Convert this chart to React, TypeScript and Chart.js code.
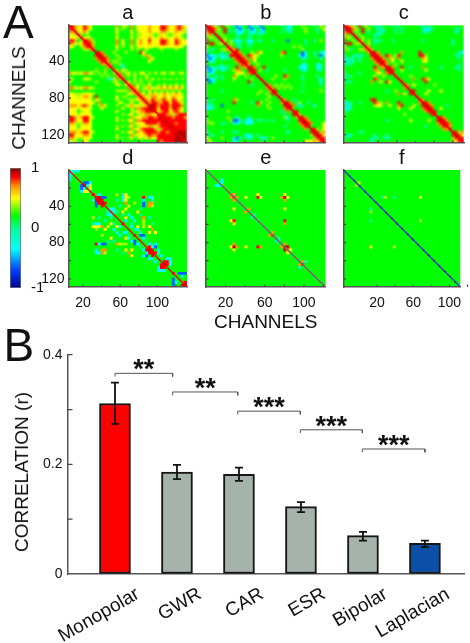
import React, { useEffect, useRef } from "react";
import { Chart, registerables } from "chart.js";

Chart.register(...registerables);

const FONT = "'Liberation Sans', Arial, sans-serif";

// Bar chart values
const categories = ["Monopolar", "GWR", "CAR", "ESR", "Bipolar", "Laplacian"];
const correlation = [0.311, 0.186, 0.182, 0.123, 0.07, 0.056];
const errLow = [0.274, 0.173, 0.17, 0.113, 0.061, 0.049];
const errHigh = [0.349, 0.199, 0.194, 0.131, 0.077, 0.061];
const barColors = ["#ff0000", "#a5b3ab", "#a5b3ab", "#a5b3ab", "#a5b3ab", "#0a50a8"];
const bracketFrom = [1, 1.93, 2.98, 3.99, 4.99];
const bracketTo = [1.93, 2.98, 3.99, 4.99, 6];
const bracketLevel = [0.366, 0.332, 0.297, 0.263, 0.228];
const significance = ["**", "**", "***", "***", "***"];

// Colour key
const keyValues = [-1, -0.7, -0.35, 0, 0.2, 0.5, 0.7, 0.85, 1];
const keyColors = ["#000090", "#0040ff", "#00ffff", "#00ff90", "#00ff00", "#ffff00", "#ff9000", "#ff0000", "#800000"];
const codeColors: Record<string, string> = {
  B: "#0000c0", b: "#0060ff", c: "#00ffff", t: "#00ffa0", ".": "#00ff00",
  g: "#a8ff00", y: "#ffff00", o: "#ff9800", r: "#ff0000", d: "#b00000",
};

// Matrices: upper triangles on a 40-cell grid (row i starts at the diagonal)
const matrixA = [
  "drogyroy.. ......o.gy .o.yyyyoyy yrroyyoroy",
  "royyroy.. ......y.g. .o.yyyyoyy yrroyyorog",
  "rgyoy... ......y... .y.gyyyoyy yoogyyoyyg",
  "rg.g... ......g... .g.ggyyyg. gyyg.gyyg.",
  "rgyg.. ......y... .y.gyyyoyg yoygyyoyg.",
  "rrog. ......o.y. .o.yoyyryy yrroyyroyy",
  "rrg. ......o.y. .o.yoyyoyy yrroyyroyy",
  "ro. ......y.g. .y.yyyyyyg yyyyyyyyy.",
  "r. ......g... .g.g..y... .g....g...",
  "d ro...g... g....ry... ..........",
  "dro...g... .....gog.. ..........",
  "dro...g.. .......oy. ..........",
  "ro.gg.. ........y. ..........",
  "ro..gt. .......... ..........",
  "r...c. .......... ..........",
  "rg.yg .......... ..........",
  "ro.g y.g.yy.g.y .gy.gy.gy.",
  "ro. g.g...y... ..........",
  "r. ..g.g.g.y. g.g.g.g.g.",
  "r y.g.g..g.. ..........",
  "ro.y.g.y.. g.y.g.y.g.",
  "roy.gyoyg yoyoyoyoy.",
  "ro.g.y.g .g.g.g.g..",
  "roy.yoy gyoygyoyg.",
  "roygoo yyoyyoyyy.",
  "royro goryyroyg.",
  "rorr oorryrroy.",
  "ddr orrrorrro.",
  "dr yrrrgrroy.",
  "r yorryoroy.",
  "rrroogorrr",
  "drrrorrro",
  "drrrrrrr",
  "drrorrr",
  "drrrrr",
  "drrrr",
  "dddd",
  "ddd",
  "dd",
  "d",
];

const matrixB = [
  "drog.r.g.t bc..bc.cb. .....t.cc. ..g...t.y.",
  "drog.r.t.c bc.tbc.cb. .....ttc.. ..g...t.yg",
  "r.g.r.t.c cc.tcc.cc. ....t.tt.. ..g...t..g",
  "r.g.... tt..tt.tt. .......... ..........",
  "r.g... t...t..... .......... ..........",
  "rg.gt cc.tcc.tt. ..t....b.. ...t..t.g.",
  "r.g. tt..tt.... .......... ...t......",
  "ro. tt..t..... .........g .g........",
  "ro r......... .......... ..g.......",
  "d ro...g.oy. .....or... ..bc..t.cc",
  "dro.royg.. .....g.... .cbc..t.bt",
  "dro.oy... .......... ..ct....c.",
  "dro.y... .......... ..........",
  "ro..g.. .......... ..cc...ct.",
  "dro..r .......... .ccc...cc.",
  "dr.g. t.....t... ..cc...tt.",
  "r... .......... ..........",
  "r.. ...g..ro.. ..t....t..",
  "r. ..g...g... ..t.....c.",
  "r .......... ........c.",
  "ro.g.g.g.. ..t.....t.",
  "ro.g.g.g ..........",
  "dr...... ..t.....g.",
  "r...... ..........",
  "r..... ..........",
  "ro..t ..........",
  "dro.t g..t....",
  "dro .ct...c.",
  "r. ..........",
  "r r.........",
  "ro........",
  "rro......g",
  "dro.....y",
  "dro...y",
  "r....y",
  "rrg.y",
  "drgo",
  "dry",
  "rr",
  "r",
];

const matrixC = [
  "drog.r.g.. ttt...t.t. ......c.t. ..........",
  "drog.r.g.. ttt...t.t. .....tcct. ......tt..",
  "r.g.r.t.. ttt...t.t. .....ttt.. ......c...",
  "r.g.... ttt....... .......... ..........",
  "r.g... t......... .......... ..........",
  "rg.g. ttt...t... ......t... ......t...",
  "r.g. t......... .......... ......t...",
  "ro. .......... .......... ..........",
  "ro .......... .......... ..........",
  "d ro.......o .....r.... ........tc",
  "dro.ro.gr. .....rrg.. .......tt.",
  "dro.oy.o. ......oy.. ........t.",
  "dro.y..y ......gy.. ..........",
  "ro..g.. .......... ........t.",
  "dro..r ..t...o... ..t....tt.",
  "dr..y .......y.. ........t.",
  "r... .......... ..........",
  "r.. ..g....... ..........",
  "r. ...o..roy. ..........",
  "r .......r.. ..........",
  "ro.y.... ..g.......",
  "r....... ..........",
  "dr....y. ..y.......",
  "r...y.. ..........",
  "r..... ..........",
  "ro... ..........",
  "dro. ..........",
  "dro ....t.....",
  "dr ..y.......",
  "r r.........",
  "r.........",
  "rro......t",
  "dro.......",
  "dro.....",
  "ro.....",
  "r....",
  "rrgo",
  "dry",
  "rr",
  "r",
];

type Cell = [number, number, string];

const matrixD: Cell[] = [
  [0,1,"c"],[0,2,"c"],[0,3,"c"],[1,1,"t"],[4,5,"b"],[4,6,"b"],[4,7,"c"],[5,5,"d"],[5,6,"c"],[5,7,"y"],[6,7,"y"],
  [8,8,"r"],[8,10,"c"],[9,9,"r"],[9,10,"r"],[10,10,"d"],[10,11,"r"],[11,11,"d"],[11,12,"r"],
  [9,11,"b"],[9,12,"b"],[8,16,"g"],[8,19,"y"],[9,19,"y"],[9,20,"g"],[9,25,"r"],[9,28,"c"],[9,27,"c"],[10,16,"t"],
  [10,18,"c"],[10,19,"y"],[11,19,"o"],[10,25,"c"],[11,25,"b"],[12,25,"b"],[10,28,"c"],[11,28,"o"],[11,27,"o"],[12,27,"o"],[12,28,"g"],
  [13,14,"c"],[13,15,"c"],[14,15,"c"],[14,16,"t"],[14,18,"y"],[13,19,"y"],[12,20,"y"],[9,18,"c"],[15,20,"c"],[16,21,"c"],
  [16,25,"o"],[17,25,"g"],[18,18,"r"],[18,25,"g"],[19,25,"g"],[19,27,"y"],[20,28,"o"],[21,27,"y"],[21,29,"y"],
  [20,22,"t"],[20,23,"c"],[22,22,"r"],[22,24,"b"],[22,25,"b"],[23,25,"c"],[19,21,"c"],
  [25,27,"c"],[26,27,"r"],[27,27,"d"],[27,28,"r"],[28,28,"d"],[28,29,"r"],[26,28,"c"],[26,29,"b"],[27,30,"c"],[25,29,"c"],[28,30,"c"],
  [29,31,"c"],[30,33,"c"],[30,34,"c"],[31,34,"c"],[31,32,"r"],[32,32,"d"],[32,33,"r"],[32,34,"c"],[31,33,"r"],
  [35,35,"r"],[35,37,"b"],[35,38,"b"],[35,39,"b"],[36,38,"c"],[39,39,"d"],[38,39,"r"],[17,19,"c"],
  [8,18,"t"],[12,17,"t"],[15,18,"t"],[16,19,"y"],[17,22,"c"],[18,21,"t"],[11,22,"g"],[13,24,"t"],[14,23,"y"],[15,24,"t"],[16,27,"t"],[18,28,"t"],[19,23,"y"],[21,24,"c"],[24,26,"t"],
];

const matrixE: Cell[] = [
  [4,5,"c"],[4,4,"t"],[3,5,"c"],[8,8,"o"],[9,9,"r"],[9,10,"o"],[8,9,"o"],[9,13,"y"],[9,17,"r"],[8,17,"y"],[9,18,"y"],
  [9,26,"d"],[8,26,"o"],[10,26,"o"],[9,25,"o"],[9,27,"y"],[26,8,"y"],
  [13,26,"y"],[17,26,"r"],[18,26,"o"],[9,17,"r"],[9,18,"y"],[17,17,"t"],[13,14,"o"],
  [17,9,"r"],[18,9,"y"],[22,22,"r"],[21,22,"o"],[24,24,"c"],[23,24,"t"],[26,26,"d"],[26,27,"r"],[25,26,"o"],[27,27,"o"],[27,28,"y"],
  [32,32,"r"],[31,32,"o"],[15,16,"t"],[31,33,"t"],
];

const matrixF: Cell[] = [
  [4,5,"g"],[9,14,"g"],[9,17,"g"],[9,26,"y"],[17,26,"g"],[17,9,"t"],[26,9,"y"],[26,17,"g"],[13,9,"t"],
];

const CELLS = 40;
const CHANNEL_RANGE = 129;

function fromTriangle(rows: string[]): string[][] {
  const m = Array.from({ length: CELLS }, () => Array(CELLS).fill("."));
  rows.forEach((row, i) => {
    row.replace(/\s/g, "").split("").forEach((code, k) => {
      const j = i + k;
      if (j < CELLS) { m[i][j] = code; m[j][i] = code; }
    });
  });
  return m;
}

function fromCells(cells: Cell[]): string[][] {
  const m = Array.from({ length: CELLS }, () => Array(CELLS).fill("."));
  cells.forEach(([i, j, code]) => { m[i][j] = code; m[j][i] = code; });
  return m;
}

const innerTicks = {
  id: "innerTicks",
  afterDraw(chart: any) {
    const opts = chart.options.plugins.innerTicks;
    if (!opts || !opts.enabled) return;
    const { ctx, chartArea, scales } = chart;
    ctx.save();
    ctx.strokeStyle = opts.color;
    ctx.lineWidth = 1.2;
    ctx.beginPath();
    (opts.y as number[]).forEach((v) => {
      const p = scales.y.getPixelForValue(v);
      ctx.moveTo(chartArea.left, p);
      ctx.lineTo(chartArea.left + opts.size, p);
    });
    (opts.x as number[]).forEach((v) => {
      const p = scales.x.getPixelForValue(v);
      ctx.moveTo(p, chartArea.bottom);
      ctx.lineTo(p, chartArea.bottom - opts.size);
    });
    ctx.stroke();
    ctx.restore();
  },
};

const starLabels = {
  id: "starLabels",
  afterDraw(chart: any) {
    if (!chart.options.plugins.starLabels) return;
    const { ctx, scales } = chart;
    ctx.save();
    ctx.fillStyle = "#111";
    ctx.font = `bold 27px ${FONT}`;
    ctx.textAlign = "center";
    ctx.textBaseline = "alphabetic";
    significance.forEach((s, i) => {
      const x = scales.x.getPixelForValue((bracketFrom[i] + bracketTo[i]) / 2);
      const y = scales.y.getPixelForValue(bracketLevel[i]);
      ctx.fillText(s, x, y + 5);
    });
    ctx.restore();
  },
};

type PanelDef = {
  title: string;
  matrix: string[][];
  left: number; right: number; top: number; bottom: number;
  xMin: number; xMax: number;
  xLabels: boolean; yLabels: boolean;
  diagonal: { color: string; width: number; dash?: number[] }[];
  xTitle?: string;
  blur: number;
};

const CLEAR = "rgba(0,0,0,0)";

// layer "heat" holds the blurred cells; layer "frame" holds axes, title and diagonal
function heatConfig(p: PanelDef, layer: "heat" | "frame"): any {
  const isFrame = layer === "frame";
  const points: { x: number; y: number }[] = [];
  const colors: string[] = [];
  p.matrix.forEach((row, i) => row.forEach((code, j) => {
    points.push({
      x: p.xMin + ((j + 0.5) * (p.xMax - p.xMin)) / CELLS,
      y: ((i + 0.5) * CHANNEL_RANGE) / CELLS,
    });
    colors.push(codeColors[code] ?? codeColors["."]);
  }));
  const yW = p.yLabels ? 65 : 5;
  const xH = p.xTitle ? 51 : 26;
  const titleH = 24;
  const textColor = isFrame ? "#111" : CLEAR;
  const axisColor = isFrame ? "#555" : CLEAR;
  return {
    type: "scatter",
    data: {
      datasets: isFrame
        ? p.diagonal.map((d, k) => ({
            type: "line",
            data: [{ x: p.xMin, y: 0 }, { x: p.xMax, y: CHANNEL_RANGE }],
            borderColor: d.color,
            borderWidth: d.width,
            borderDash: d.dash ?? [],
            pointRadius: 0,
            order: -k,
          }))
        : [{
            data: points,
            pointStyle: "rect",
            pointRadius: 2.7,
            pointBorderWidth: 0,
            pointBackgroundColor: colors,
          }],
    },
    options: {
      responsive: false,
      animation: false,
      events: [],
      layout: {
        padding: {
          left: p.left - yW,
          right: 470 - p.right,
          top: p.top - titleH,
          bottom: 643 - p.bottom - xH,
        },
      },
      plugins: {
        legend: { display: false },
        tooltip: { enabled: false },
        title: {
          display: true,
          text: p.title,
          color: textColor,
          fullSize: false,
          font: { family: FONT, size: 20, weight: "normal" },
          padding: { top: 0, bottom: 0 },
        },
        innerTicks: { enabled: isFrame, color: "#444", size: 2.5, x: [20, 40, 60, 80, 100, 120], y: [20, 40, 60, 80, 100, 120] },
      },
      scales: {
        x: {
          type: "linear",
          min: p.xMin,
          max: p.xMax,
          afterFit: (s: any) => { s.height = xH; },
          afterBuildTicks: (s: any) => { s.ticks = [20, 60, 100].map((value) => ({ value })); },
          grid: { drawOnChartArea: false, drawTicks: false },
          border: { color: axisColor, width: 1.5 },
          title: p.xTitle
            ? { display: true, text: p.xTitle, color: textColor, font: { family: FONT, size: 19 } }
            : { display: false },
          ticks: {
            display: p.xLabels,
            padding: 8,
            maxRotation: 0,
            autoSkip: false,
            color: textColor,
            font: { family: FONT, size: 14 },
          },
        },
        y: {
          type: "linear",
          min: 0,
          max: CHANNEL_RANGE,
          reverse: true,
          afterFit: (s: any) => { s.width = yW; },
          afterBuildTicks: (s: any) => { s.ticks = [40, 80, 120].map((value) => ({ value })); },
          grid: { drawOnChartArea: false, drawTicks: false },
          border: { color: axisColor, width: 1.5 },
          ticks: {
            display: p.yLabels,
            padding: 4,
            color: textColor,
            font: { family: FONT, size: 14 },
          },
        },
      },
    },
    plugins: [innerTicks],
  };
}

const redDiagonal = [{ color: "#f00000", width: 1.3 }];
const panels: PanelDef[] = [
  { title: "a", matrix: fromTriangle(matrixA), left: 68.5, right: 187, top: 25, bottom: 143, xMin: 4.3, xMax: 132, xLabels: false, yLabels: true, diagonal: redDiagonal, blur: 1.2 },
  { title: "b", matrix: fromTriangle(matrixB), left: 206, right: 325.5, top: 25, bottom: 143, xMin: 0, xMax: 122, xLabels: false, yLabels: false, diagonal: redDiagonal, blur: 1.2 },
  { title: "c", matrix: fromTriangle(matrixC), left: 343.5, right: 464, top: 25, bottom: 143, xMin: -17, xMax: 112, xLabels: false, yLabels: false, diagonal: redDiagonal, blur: 1.2 },
  { title: "d", matrix: fromCells(matrixD), left: 68.5, right: 187, top: 170, bottom: 287, xMin: 4.3, xMax: 132, xLabels: true, yLabels: true, diagonal: redDiagonal, blur: 0.7 },
  { title: "e", matrix: fromCells(matrixE), left: 206, right: 325.5, top: 170, bottom: 287, xMin: 0, xMax: 122, xLabels: true, yLabels: false, xTitle: "CHANNELS", diagonal: [{ color: "#30a8a0", width: 1.8 }, { color: "#e02010", width: 0.9 }], blur: 0.6 },
  { title: "f", matrix: fromCells(matrixF), left: 343.5, right: 463, top: 170, bottom: 287, xMin: -17, xMax: 112, xLabels: true, yLabels: false, diagonal: [{ color: "#2838c8", width: 1.4 }, { color: "#601090", width: 1.8, dash: [1.5, 6] }], blur: 0.7 },
];

function keyConfig(): any {
  return {
    type: "bar",
    data: {
      labels: [""],
      datasets: [{
        data: [[-1, 1]],
        barPercentage: 1,
        categoryPercentage: 1,
        borderWidth: 1,
        borderColor: "#777",
        borderSkipped: false,
        backgroundColor: (c: any) => {
          const area = c.chart.chartArea;
          if (!area) return "#00ff00";
          const g = c.chart.ctx.createLinearGradient(0, area.bottom, 0, area.top);
          keyValues.forEach((v, i) => g.addColorStop((v + 1) / 2, keyColors[i]));
          return g;
        },
      }],
    },
    options: {
      responsive: false,
      animation: false,
      events: [],
      layout: { padding: { left: 10, right: 470 - 21 - 22, top: 168, bottom: 643 - 288 } },
      plugins: { legend: { display: false }, tooltip: { enabled: false } },
      scales: {
        x: { display: false },
        y: {
          position: "right",
          min: -1,
          max: 1,
          afterFit: (s: any) => { s.width = 22; },
          afterBuildTicks: (s: any) => { s.ticks = [-1, 0, 1].map((value) => ({ value })); },
          grid: { display: false },
          border: { display: false },
          ticks: { padding: 2, color: "#111", font: { family: FONT, size: 15 } },
        },
      },
    },
  };
}

function barConfig(): any {
  return {
    type: "bar",
    data: {
      datasets: [
        {
          data: categories.map((_, i) => ({ x: i + 1, y: correlation[i] })),
          backgroundColor: barColors,
          borderColor: "#161616",
          borderWidth: 2,
          borderSkipped: false,
          barThickness: 31,
          order: 5,
        },
        ...categories.map((_, i) => ({
          type: "line",
          data: [{ x: i + 1, y: errLow[i] }, { x: i + 1, y: errHigh[i] }],
          borderColor: "#111",
          borderWidth: 1.8,
          pointStyle: "line",
          pointRadius: 4,
          pointBorderWidth: 1.8,
          pointBorderColor: "#111",
          order: 1,
        })),
        ...bracketLevel.map((y, i) => ({
          type: "line",
          data: [
            { x: bracketFrom[i], y: y - 0.006 },
            { x: bracketFrom[i], y },
            { x: bracketTo[i], y },
            { x: bracketTo[i], y: y - 0.006 },
          ],
          borderColor: "#555",
          borderWidth: 1,
          pointRadius: 0,
          order: 1,
        })),
      ],
    },
    options: {
      responsive: false,
      animation: false,
      events: [],
      layout: { padding: { left: 67.5 - 40, right: 470 - 464, top: 354.7, bottom: 0 } },
      plugins: {
        legend: { display: false },
        tooltip: { enabled: false },
        innerTicks: { enabled: true, color: "#444", size: 5, x: [], y: [0.1, 0.2, 0.3, 0.4] },
        starLabels: true,
      },
      scales: {
        x: {
          type: "linear",
          min: 0.234,
          max: 6.63,
          offset: false,
          afterFit: (s: any) => { s.height = 69; },
          afterBuildTicks: (s: any) => { s.ticks = categories.map((_, i) => ({ value: i + 1 })); },
          grid: { drawOnChartArea: false, drawTicks: false },
          border: { color: "#555", width: 1.5 },
          ticks: {
            autoSkip: false,
            minRotation: 30,
            maxRotation: 30,
            labelOffset: 23,
            padding: 9,
            color: "#111",
            font: { family: FONT, size: 19 },
            callback: (v: number) => categories[v - 1] ?? "",
          },
        },
        y: {
          min: 0,
          max: 0.4,
          afterFit: (s: any) => { s.width = 40; },
          afterBuildTicks: (s: any) => { s.ticks = [0, 0.2, 0.4].map((value) => ({ value })); },
          grid: { drawOnChartArea: false, drawTicks: false },
          border: { color: "#555", width: 1.5 },
          ticks: {
            padding: 5,
            color: "#111",
            font: { family: FONT, size: 14 },
            callback: (v: number) => String(v),
          },
        },
      },
    },
    plugins: [innerTicks, starLabels],
  };
}

function ChartCanvas({ make, css }: { make: () => any; css?: React.CSSProperties }) {
  const ref = useRef<HTMLCanvasElement>(null);
  useEffect(() => {
    const chart = new Chart(ref.current as HTMLCanvasElement, make());
    return () => chart.destroy();
  }, [make]);
  return (
    <canvas
      ref={ref}
      width={470}
      height={643}
      style={{ position: "absolute", left: 0, top: 0, width: 470, height: 643, filter: "blur(0.35px)", ...css }}
    />
  );
}

const heatLayers = panels.map((p) => ({
  make: () => heatConfig(p, "heat"),
  css: {
    filter: `blur(${p.blur}px)`,
    clipPath: `inset(${p.top}px ${470 - p.right}px ${643 - p.bottom}px ${p.left}px)`,
  } as React.CSSProperties,
}));
const frameLayers = panels.map((p) => () => heatConfig(p, "frame"));

const textStyle: React.CSSProperties = {
  position: "absolute",
  fontFamily: FONT,
  color: "#111",
  whiteSpace: "nowrap",
  filter: "blur(0.3px)",
};

export default function App() {
  return (
    <div style={{ position: "absolute", left: 0, top: 0, width: 470, height: 643, overflow: "hidden", background: "#fff" }}>
      {heatLayers.map((l, i) => <ChartCanvas key={`h${i}`} make={l.make} css={l.css} />)}
      {frameLayers.map((m, i) => <ChartCanvas key={`f${i}`} make={m} />)}
      <ChartCanvas make={keyConfig} />
      <ChartCanvas make={barConfig} />
      <div style={{ ...textStyle, left: 3, top: -1, fontSize: 46, lineHeight: "46px" }}>A</div>
      <div style={{ ...textStyle, left: 3.5, top: 322, fontSize: 46, lineHeight: "46px" }}>B</div>
      <div style={{ ...textStyle, left: 19, top: 97.5, fontSize: 19, transform: "translate(-50%,-50%) rotate(-90deg)" }}>CHANNELS</div>
      <div style={{ ...textStyle, left: 22, top: 471.5, fontSize: 19, transform: "translate(-50%,-50%) rotate(-90deg)" }}>CORRELATION (r)</div>
    </div>
  );
}
